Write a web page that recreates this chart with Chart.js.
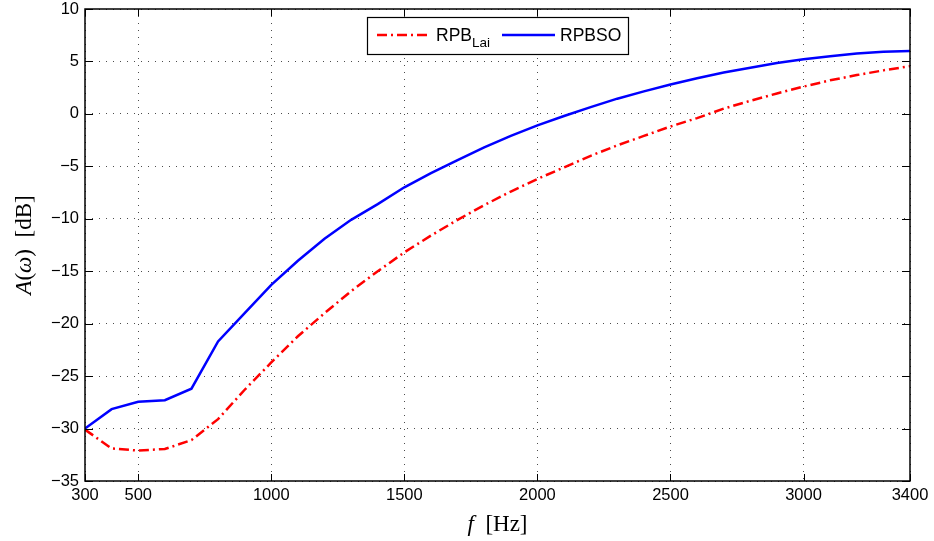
<!DOCTYPE html>
<html lang="en">
<head>
<meta charset="UTF-8">
<title>A(ω) vs f</title>
<script src="https://cdn.jsdelivr.net/npm/chart.js"></script>
<style>
  html, body { margin: 0; padding: 0; background: #fff; }
  .wrap { width: 934px; height: 541px; }
</style>
</head>
<body>
<div class="wrap"><canvas id="chart" width="934" height="541"></canvas></div>
<script>
// frequency grid (Hz)
const freqs = [300, 400, 500, 600, 700, 800, 900, 1000, 1100, 1200, 1300, 1400, 1500, 1600,
  1700, 1800, 1900, 2000, 2100, 2200, 2300, 2400, 2500, 2600, 2700, 2800, 2900, 3000,
  3100, 3200, 3300, 3400];

// RPB_Lai (red dash-dot)
const rpbLai = [-30.1, -31.9, -32.1, -31.95, -31.1, -29.1, -26.3, -23.7, -21.2, -19.0, -16.9,
  -15.0, -13.2, -11.6, -10.1, -8.7, -7.4, -6.2, -5.1, -4.0, -3.0, -2.1, -1.2, -0.4,
  0.5, 1.25, 1.95, 2.6, 3.2, 3.7, 4.15, 4.55];

// RPBSO (blue solid)
const rpbso = [-30.0, -28.15, -27.45, -27.3, -26.2, -21.7, -19.0, -16.3, -14.0, -11.9, -10.1,
  -8.6, -7.0, -5.65, -4.4, -3.2, -2.1, -1.1, -0.2, 0.65, 1.45, 2.15, 2.8, 3.4,
  3.95, 4.4, 4.85, 5.2, 5.5, 5.75, 5.92, 6.0];

const xTicks = [300, 500, 1000, 1500, 2000, 2500, 3000, 3400];
const yTicks = [-35, -30, -25, -20, -15, -10, -5, 0, 5, 10];

const sans = "'Liberation Sans', Arial, sans-serif";
const serif = "'Liberation Serif', 'DejaVu Serif', serif";

function pts(ys) { return freqs.map((f, i) => ({ x: f, y: ys[i] })); }
function minus(v) { return String(v).replace('-', '\u2212'); }

// box, inward ticks, legend and axis titles in MATLAB style
const decor = {
  id: 'decor',
  afterDraw(chart) {
    const c = chart.ctx, a = chart.chartArea;
    const xs = chart.scales.x, ys = chart.scales.y;
    c.save();
    c.strokeStyle = '#000';
    c.lineWidth = 1.5;
    c.strokeRect(a.left, a.top, a.right - a.left, a.bottom - a.top);
    c.lineWidth = 1;
    c.beginPath();
    xTicks.forEach(t => {
      const px = Math.round(xs.getPixelForValue(t)) + 0.5;
      c.moveTo(px, a.bottom); c.lineTo(px, a.bottom - 7);
      c.moveTo(px, a.top); c.lineTo(px, a.top + 7);
    });
    yTicks.forEach(t => {
      const py = Math.round(ys.getPixelForValue(t)) + 0.5;
      c.moveTo(a.left, py); c.lineTo(a.left + 8, py);
      c.moveTo(a.right, py); c.lineTo(a.right - 8, py);
    });
    c.stroke();

    // legend
    const lx = 367, ly = 17, lw = 261, lh = 37;
    c.fillStyle = '#fff';
    c.fillRect(lx, ly, lw, lh);
    c.lineWidth = 1.2;
    c.strokeRect(lx + 0.5, ly + 0.5, lw, lh);
    const my = ly + 18;
    c.lineWidth = 2.5;
    c.strokeStyle = '#ff0000';
    c.setLineDash([10, 4, 2, 4]);
    c.beginPath(); c.moveTo(377, my); c.lineTo(430, my); c.stroke();
    c.setLineDash([]);
    c.strokeStyle = '#0000ff';
    c.beginPath(); c.moveTo(502, my); c.lineTo(555, my); c.stroke();
    c.fillStyle = '#000';
    c.textBaseline = 'alphabetic';
    c.textAlign = 'left';
    c.font = '17.5px ' + sans;
    c.fillText('RPB', 436, my + 6);
    const w = c.measureText('RPB').width;
    c.font = '13.5px ' + sans;
    c.fillText('Lai', 436 + w, my + 12);
    c.font = '17.5px ' + sans;
    c.fillText('RPBSO', 560, my + 6);

    // x title: f [Hz]
    const f1 = 'f', f2 = '  [Hz]';
    c.font = 'italic 23px ' + serif;
    const w1 = c.measureText(f1).width;
    c.font = '23px ' + serif;
    const w2 = c.measureText(f2).width;
    const sx = (a.left + a.right) / 2 - (w1 + w2) / 2;
    c.font = 'italic 23px ' + serif;
    c.fillText(f1, sx, 531);
    c.font = '23px ' + serif;
    c.fillText(f2, sx + w1, 531);

    // y title: A(ω) [dB]
    c.translate(31, (a.top + a.bottom) / 2);
    c.rotate(-Math.PI / 2);
    const parts = [['A', true], ['(', false], ['\u03c9', true], [')  [dB]', false]];
    let tw = 0;
    parts.forEach(p => { c.font = (p[1] ? 'italic ' : '') + '23px ' + serif; tw += c.measureText(p[0]).width; });
    let cx = -tw / 2;
    parts.forEach(p => {
      c.font = (p[1] ? 'italic ' : '') + '23px ' + serif;
      c.fillText(p[0], cx, 0);
      cx += c.measureText(p[0]).width;
    });
    c.restore();
  }
};

const grid = {
  color: 'rgba(0,0,0,0.7)',
  lineWidth: 1,
  drawTicks: false
};

new Chart(document.getElementById('chart'), {
  type: 'line',
  data: {
    datasets: [
      {
        label: 'RPB_Lai',
        data: pts(rpbLai),
        borderColor: '#ff0000',
        borderWidth: 2.5,
        borderDash: [10, 4, 2, 4],
        pointRadius: 0,
        tension: 0,
        fill: false
      },
      {
        label: 'RPBSO',
        data: pts(rpbso),
        borderColor: '#0000ff',
        borderWidth: 2.5,
        pointRadius: 0,
        tension: 0,
        fill: false
      }
    ]
  },
  options: {
    responsive: false,
    animation: false,
    layout: { padding: { top: 9, right: 24, left: 0, bottom: 0 } },
    plugins: { legend: { display: false }, tooltip: { enabled: false } },
    scales: {
      x: {
        type: 'linear',
        min: 300,
        max: 3400,
        afterBuildTicks(s) { s.ticks = xTicks.map(v => ({ value: v })); },
        afterFit(s) { s.height = 60; s.paddingLeft = 0; s.paddingRight = 0; },
        grid: grid,
        border: { display: false, dash: [1, 6] },
        ticks: {
          color: '#000',
          font: { family: sans, size: 16.5 },
          padding: 5,
          maxRotation: 0,
          autoSkip: false,
          callback: v => String(v)
        }
      },
      y: {
        min: -35,
        max: 10,
        afterBuildTicks(s) { s.ticks = yTicks.map(v => ({ value: v })); },
        afterFit(s) { s.width = 85; s.paddingTop = 0; s.paddingBottom = 0; },
        grid: grid,
        border: { display: false, dash: [1, 6] },
        ticks: {
          color: '#000',
          font: { family: sans, size: 16.5 },
          padding: 6,
          callback: v => minus(v)
        }
      }
    }
  },
  plugins: [decor]
});
</script>
</body>
</html>
